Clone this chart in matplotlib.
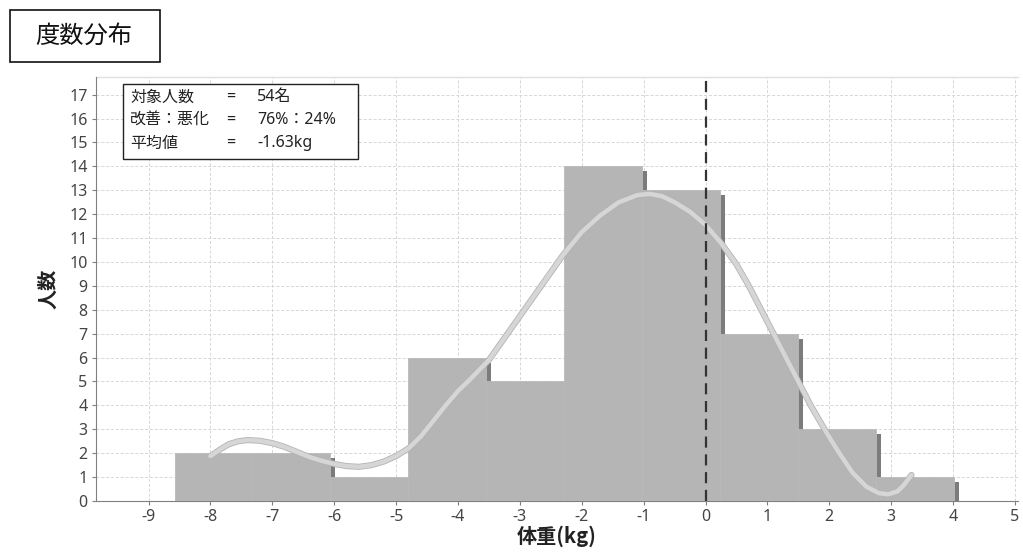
import matplotlib
matplotlib.use("Agg")
import matplotlib.pyplot as plt
import matplotlib.transforms as mtransforms
import matplotlib.patheffects as pe
import numpy as np

plt.rcParams['font.family'] = ['Noto Sans', 'Noto Sans CJK JP', 'DejaVu Sans']
CJK = ['Noto Sans CJK JP', 'DejaVu Sans']

# Histogram bins (kg) and counts
bin_start = -8.58
bin_width = 1.259
counts = [2, 2, 1, 6, 5, 14, 13, 7, 3, 1]

# Smoothed distribution curve (x in kg, y in persons)
curve_x = [-8.0, -7.85, -7.7, -7.55, -7.4, -7.2, -7.0, -6.8, -6.6, -6.4, -6.2,
           -6.0, -5.8, -5.6, -5.4, -5.2, -5.0, -4.8, -4.6, -4.4, -4.2, -4.0,
           -3.8, -3.5, -3.2, -2.9, -2.6, -2.3, -2.0, -1.7, -1.4, -1.1, -0.9,
           -0.7, -0.5, -0.25, 0.0, 0.25, 0.5, 0.7, 0.9, 1.1, 1.3, 1.5, 1.7,
           1.96, 2.15, 2.38, 2.6, 2.8, 2.95, 3.1, 3.2, 3.33]
curve_y = [1.88, 2.15, 2.38, 2.5, 2.55, 2.52, 2.42, 2.26, 2.05, 1.84, 1.68,
           1.55, 1.46, 1.43, 1.5, 1.65, 1.88, 2.2, 2.7, 3.35, 4.0, 4.6,
           5.1, 5.9, 7.0, 8.1, 9.2, 10.3, 11.25, 11.95, 12.5, 12.8, 12.85,
           12.75, 12.5, 12.1, 11.55, 10.8, 9.9, 9.0, 8.0, 7.0, 6.0, 5.0, 4.0,
           2.84, 2.05, 1.17, 0.6, 0.33, 0.28, 0.4, 0.65, 1.09]

mean_value = 0.0  # reference line position

x_ticks = list(range(-9, 6))
y_ticks = list(range(0, 18))

info_labels = ['対象人数', '改善：悪化', '平均値']
info_values = ['54名', '76%：24%', '-1.63kg']

fig = plt.figure(figsize=(10.23, 5.54), dpi=100)
ax = fig.add_axes([96 / 1023, 1 - 501 / 554, (1018 - 96) / 1023, (501 - 77) / 554])

lefts = bin_start + bin_width * np.arange(len(counts))

# shadow bars offset down-right
shadow_tr = mtransforms.offset_copy(ax.transData, fig=fig, x=5, y=-5, units='dots')
ax.bar(lefts, counts, width=bin_width, align='edge', color='#7c7c7c',
       linewidth=0, transform=shadow_tr, zorder=2)
ax.bar(lefts, counts, width=bin_width, align='edge', color='#b5b5b5',
       edgecolor='#bababa', linewidth=0.6, zorder=3)

ax.plot(curve_x, curve_y, color='#d6d6d6', linewidth=3.2, solid_capstyle='round',
        solid_joinstyle='round', zorder=4,
        path_effects=[pe.Stroke(linewidth=4.4, foreground='#b4b4b4'), pe.Normal()])

ax.axvline(mean_value, color='#333333', linewidth=1.6, linestyle=(0, (5, 3)), zorder=5)

ax.set_xlim(-9.85, 5.05)
ax.set_ylim(0, 17.74)
ax.set_xticks(x_ticks)
ax.set_yticks(y_ticks)
ax.set_xticklabels([str(t) for t in x_ticks])
ax.set_yticklabels([str(t) for t in y_ticks])

ax.grid(True, color='#d6d6d6', linestyle=(0, (3, 2)), linewidth=0.7, zorder=0)
ax.set_axisbelow(True)
for s in ['top', 'right']:
    ax.spines[s].set_visible(False)
ax.spines['left'].set_color('#808080')
ax.spines['bottom'].set_color('#808080')
ax.plot([0, 1], [1, 1], transform=ax.transAxes, color='#e0e0e0', linewidth=1, clip_on=False)
ax.tick_params(axis='both', colors='#808080', labelcolor='#444444', labelsize=11.5,
               length=3, width=0.8, pad=3)

ax.set_xlabel('体重(kg)', fontsize=14.5, fontweight='bold', color='#222222', labelpad=0,
              family=CJK)
ax.set_ylabel('人数', fontsize=14.5, fontweight='bold', color='#222222', labelpad=8,
              family=CJK)

# info box
box = plt.Rectangle((123 / 1023, 1 - 159 / 554), (358 - 123) / 1023, (159 - 84) / 554,
                    transform=fig.transFigure, facecolor='white', edgecolor='#222222',
                    linewidth=1.0, zorder=10)
fig.patches.append(box)
row_y = [97, 120, 143]
for lbl, val, yy in zip(info_labels, info_values, row_y):
    fy = 1 - yy / 554
    fig.text(130 / 1023, fy, lbl, fontsize=11.5, va='center', ha='left', color='#222222',
             zorder=11, family=CJK)
    fig.text(226 / 1023, fy, '=', fontsize=11.5, va='center', ha='left', color='#222222',
             zorder=11)
    fig.text(257 / 1023, fy, val, fontsize=11.5, va='center', ha='left', color='#222222',
             zorder=11)

# title box
title_box = plt.Rectangle((10 / 1023, 1 - 62 / 554), (160 - 10) / 1023, (62 - 10) / 554,
                          transform=fig.transFigure, facecolor='white', edgecolor='#111111',
                          linewidth=1.2)
fig.patches.append(title_box)
fig.text(84 / 1023, 1 - 36 / 554, '度数分布', fontsize=17.5, ha='center', va='center',
         color='#111111', family=CJK)

fig.savefig('out.png', dpi=100)
